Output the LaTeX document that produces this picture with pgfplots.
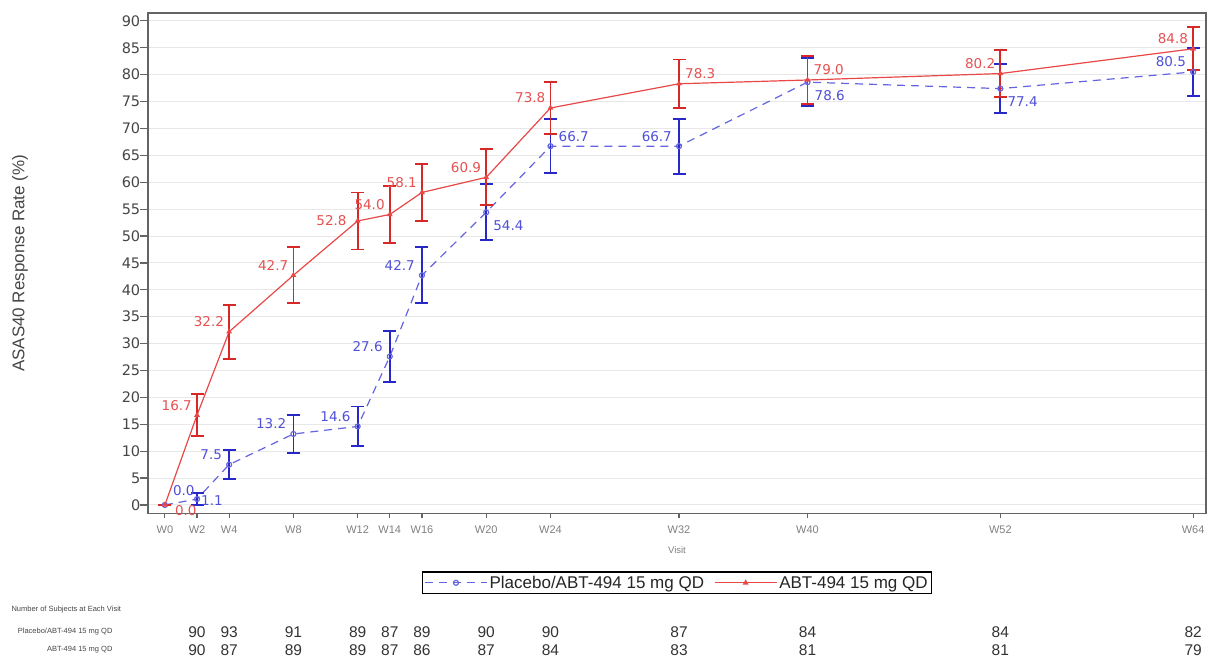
\documentclass[border=0pt]{standalone}
\usepackage{fontspec}
\setmainfont{Liberation Sans}
\newfontfamily\dejavu{DejaVu Sans}
\usepackage{pgfplots}
\usepackage{pgfplotstable}
\pgfplotsset{compat=1.18}
\definecolor{redline}{RGB}{232,72,72}
\definecolor{redbar}{RGB}{215,40,40}
\definecolor{redlab}{RGB}{230,80,80}
\definecolor{blueline}{RGB}{100,100,225}
\definecolor{bluebar}{RGB}{40,40,200}
\definecolor{bluelab}{RGB}{80,80,215}
\definecolor{gridc}{RGB}{232,232,232}
\definecolor{axc}{RGB}{100,100,100}
\definecolor{txt}{RGB}{70,70,70}

\pgfplotstableread{
x y err
0 0 0
2 16.7 3.9
4 32.2 5.0
8 42.7 5.2
12 52.8 5.3
14 54.0 5.3
16 58.1 5.3
20 60.9 5.2
24 73.8 4.8
32 78.3 4.5
40 79.0 4.5
52 80.2 4.4
64 84.8 4.0
}\redtab

\pgfplotstableread{
x y err
0 0 0
2 1.1 1.1
4 7.5 2.7
8 13.2 3.5
12 14.6 3.7
14 27.6 4.8
16 42.7 5.2
20 54.4 5.2
24 66.7 5.0
32 66.7 5.1
40 78.6 4.5
52 77.4 4.6
64 80.5 4.4
}\bluetab

\newcommand{\labfont}{\dejavu\fontsize{13.5bp}{15bp}\selectfont}
\pgfplotsset{
  lab/.style n args={4}{draw=none, forget plot, nodes near coords, point meta=explicit symbolic,
    nodes near coords style={anchor=#1, xshift=#2bp, yshift=#3bp, font=\labfont, text=#4, inner sep=1bp}},
  cnt/.style={draw=none, forget plot, nodes near coords, point meta=explicit symbolic,
    nodes near coords style={anchor=center, font=\fontsize{15.5bp}{17bp}\selectfont, text=black!80}},
}

\begin{document}
\begin{tikzpicture}
\begin{axis}[
  name=ax,
  scale only axis,
  width=1058bp, height=500bp,
  xmin=-1.05, xmax=64.8,
  ymin=-1.55, ymax=91.4,
  clip=false,
  axis line style={axc, line width=1.6bp},
  tick align=outside,
  xtick pos=bottom, ytick pos=left,
  xtick={0,2,4,8,12,14,16,20,24,32,40,52,64},
  xticklabels={W0,W2,W4,W8,W12,W14,W16,W20,W24,W32,W40,W52,W64},
  ytick={0,5,...,90},
  xtick style={axc, line width=1.2bp, /pgfplots/major tick length=5bp},
  ytick style={axc, line width=1.2bp, /pgfplots/major tick length=8bp},
  ymajorgrids,
  grid style={gridc, line width=1bp},
  /pgf/number format/assume math mode=true,
  yticklabel style={font=\dejavu\fontsize{14.5bp}{16bp}\selectfont, text=txt},
  xticklabel style={font=\fontsize{11bp}{12bp}\selectfont, text=gray, yshift=-5bp},
  xlabel={Visit},
  xlabel style={at={(axis description cs:0.5,-0.073)}, anchor=center, font=\fontsize{9.5bp}{10bp}\selectfont, text=gray},
  ylabel={ASAS40 Response Rate (\%)},
  ylabel style={at={(axis description cs:-0.121,0.5)}, anchor=center, font=\fontsize{17bp}{19bp}\selectfont, text=txt},
  legend style={at={(axis description cs:0.5,-0.139)}, anchor=center, legend columns=-1, draw=black, line width=1.3bp,
    font=\fontsize{17bp}{19bp}\selectfont, text=black!85, inner sep=2bp,
    /tikz/every even column/.append style={column sep=8bp}},
  legend image code/.code={\draw[mark repeat=2,mark phase=2,#1] plot coordinates {(0bp,0bp) (31bp,0bp) (62bp,0bp)};},
]
% placebo
\addplot[blueline, line width=1.2bp, dash pattern=on 8bp off 6bp, mark=o, mark size=2.5bp, mark options={solid},
  error bars/y dir=both, error bars/y explicit,
  error bars/error bar style={draw=bluebar, solid, line width=1.8bp},
  error bars/error mark options={draw=bluebar, solid, line width=1.8bp, mark size=6.5bp, rotate=90}]
  table[x=x, y=y, y error=err]{\bluetab};
\addlegendentry{Placebo/ABT-494 15 mg QD}
% ABT-494
\addplot[redline, line width=1.2bp, mark=triangle*, mark size=2.2bp,
  error bars/y dir=both, error bars/y explicit,
  error bars/error bar style={draw=redbar, solid, line width=1.8bp},
  error bars/error mark options={draw=redbar, solid, line width=1.8bp, mark size=6.5bp, rotate=90}]
  table[x=x, y=y, y error=err]{\redtab};
\addlegendentry{ABT-494 15 mg QD}
% value labels: placebo
\addplot[lab={east}{-6}{10}{bluelab}] coordinates {(4,7.5)[7.5] (8,13.2)[13.2] (12,14.6)[14.6] (14,27.6)[27.6] (16,42.7)[42.7] (32,66.7)[66.7] (64,80.5)[80.5]};
\addplot[lab={west}{6}{-13}{bluelab}] coordinates {(20,54.4)[54.4] (40,78.6)[78.6] (52,77.4)[77.4]};
\addplot[lab={west}{7}{10}{bluelab}] coordinates {(24,66.7)[66.7] (0,0.8)[0.0]};
\addplot[lab={west}{3}{-2}{bluelab}] coordinates {(2,1.1)[1.1]};
% value labels: ABT-494
\addplot[lab={east}{-4}{10}{redlab}] coordinates {(2,16.7)[16.7] (4,32.2)[32.2] (8,42.7)[42.7] (14,54.0)[54.0] (16,58.1)[58.1] (20,60.9)[60.9] (24,73.8)[73.8] (52,80.2)[80.2] (64,84.8)[84.8]};
\addplot[lab={west}{5}{10}{redlab}] coordinates {(32,78.3)[78.3] (40,79.0)[79.0]};
\addplot[lab={east}{-10}{0}{redlab}] coordinates {(12,52.8)[52.8]};
\addplot[lab={west}{9}{-6}{redlab}] coordinates {(0,0)[0.0]};
% subject counts
\addplot[cnt] coordinates {(2,-23.58)[90] (4,-23.58)[93] (8,-23.58)[91] (12,-23.58)[89] (14,-23.58)[87] (16,-23.58)[89] (20,-23.58)[90] (24,-23.58)[90] (32,-23.58)[87] (40,-23.58)[84] (52,-23.58)[84] (64,-23.58)[82]};
\addplot[cnt] coordinates {(2,-26.93)[90] (4,-26.93)[87] (8,-26.93)[89] (12,-26.93)[89] (14,-26.93)[87] (16,-26.93)[86] (20,-26.93)[87] (24,-26.93)[84] (32,-26.93)[83] (40,-26.93)[81] (52,-26.93)[81] (64,-26.93)[79]};
\end{axis}
\node[anchor=west, font=\fontsize{7.5bp}{9bp}\selectfont, text=txt] at ([xshift=-140bp,yshift=-96.5bp]ax.south west) {Number of Subjects at Each Visit};
\node[anchor=east, font=\fontsize{7.5bp}{9bp}\selectfont, text=txt] at ([xshift=-32bp,yshift=-118.5bp]ax.south west) {Placebo/ABT-494 15 mg QD};
\node[anchor=east, font=\fontsize{7.5bp}{9bp}\selectfont, text=txt] at ([xshift=-32bp,yshift=-136.5bp]ax.south west) {ABT-494 15 mg QD};
\path ([xshift=-148bp,yshift=-146.5bp]ax.south west) rectangle ([xshift=3bp,yshift=13.3bp]ax.north east);
\end{tikzpicture}
\end{document}
